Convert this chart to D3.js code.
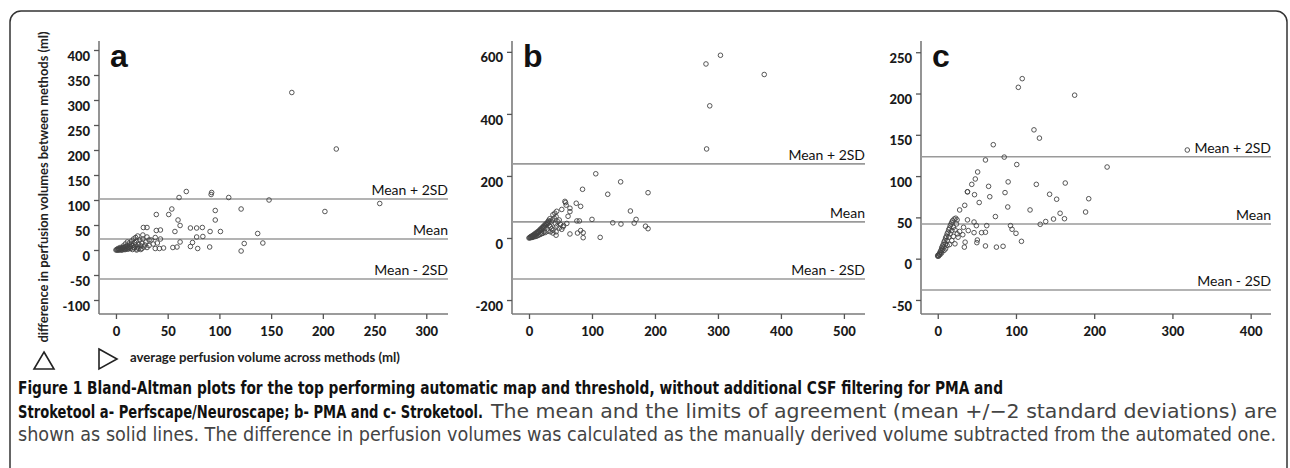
<!DOCTYPE html>
<html>
<head>
<meta charset="utf-8">
<script src="https://cdn.jsdelivr.net/npm/d3@7"></script>
<style>
  body { margin: 0; background: #fff; }
  svg { display: block; }
</style>
</head>
<body>
<svg id="fig" width="1290" height="468"></svg>
<script>
// panel a - Perfscape/Neuroscape: [average, difference]
var pointsA = [
  [61,105],[68,117],[92.5,115],[92,111],[109,105],[148,100],[255,93],[202,77],[121,82],[54,82],
  [39,71],[51,71],[96,79],[96,60],[60,60],[62,49],[57,37],[72,44],[78,44],[83.5,45],[91,37],[101,37],
  [26.5,45],[30,45],[39,39],[43,40],[137,33],[142,14],[124,13],[121,-2],[78,26],[84,27],[74,15],[72,7],
  [62,16],[55,5],[59,6],[79,3],[90.6,6],[46,4],[42,3],[38,3],[43,22],[38,25],[40,14],[30,26],[34,20],
  [0,0],[1,1],[2,0],[3,2],[4,1],[5,3],[6,2],[7,5],[8,4],[9,6],[10,3],[11,8],[12,5],[13,10],[14,7],
  [15,12],[16,9],[17,4],[18,15],[19,10],[20,18],[21,6],[22,12],[23,20],[24,8],[25,14],[26,22],[28,10],
  [29,16],[30,5],[2,3],[3,1],[5,0],[6,4],[8,1],[10,7],[12,2],[14,3],[16,1],[18,5],[20,2],[22,3],[24,1],
  [13,14],[15,18],[17,22],[19,25],[21,28],[11,16],[9,12],[7,8],[4,5],[25,3],[27,6],[32,9],[36,12],
  [26,30],[32,20],[170,315],[213,202],[1,0],[3,0],[6,0],[9,1],[11,2],[20,0]
];
// panel b - PMA
var pointsB = [
  [281,561],[304,589],[373.5,527],[287,426],[282,287],[106,207],[85,157],[125,141],[145.5,181],[189,146],
  [161,87],[170,60],[167,48],[185,38],[189,30],[133,49],[146,45],[100,60],[113,2],[75,112],[82,102],
  [58,114],[65,96],[65,85],[76,55],[80,55],[41,80],[43,69],[82,24],[86,17],[77,16],[86,1],[65,13],
  [43,20],[43,9],[54,36],[60,47],[48,58],[32,53],[57,118],[59,106],[44,86],[38,75],[52,92],[62,70],
  [0,0],[2,2],[3,5],[4,3],[5,7],[6,6],[7,10],[8,8],[9,13],[10,11],[11,16],[12,14],[13,19],[14,17],
  [15,22],[16,20],[17,26],[18,24],[19,30],[20,27],[21,34],[22,31],[23,38],[24,35],[25,42],[26,39],
  [27,46],[28,43],[29,50],[30,47],[31,56],[32,40],[33,62],[34,36],[35,52],[36,30],[37,58],[38,25],
  [40,64],[42,46],[44,38],[46,52],[48,32],[50,44],[52,28],[55,40],[10,5],[14,8],[18,12],[22,15],
  [26,18],[30,22],[34,20],[38,16],[5,2],[8,4],[1,1],[3,1],[6,3],[12,6],[16,10],[20,14],[24,20]
];
// panel c - Stroketool
var pointsC = [
  [108,218],[103,207.5],[175,198],[123,156],[130,146],[71,138],[319,131.6],[85,123],[61,119.5],[101,114],
  [216.5,111],[51,105],[48,96.5],[43.5,90],[65,87.6],[90,93],[126,90],[163,91.6],[38,81],[47,77.5],
  [66.5,75],[86,80],[143,78],[152,72],[193,72.6],[53,68],[34.5,64.6],[28,59],[118,59],[89.5,62.6],
  [73.7,51],[189,56.5],[156.4,55],[162,48.4],[148,48],[138,45],[131,41.6],[93,40],[95,35.6],[100,30.7],
  [107,21],[83.5,15],[75,14],[61,15.4],[50.6,22.6],[50,19.4],[61,32],[56,31.5],[62.6,40],[46.4,44.4],
  [49.4,40],[46.4,31.5],[39,34],[33,38],[38,47],[32,29],[35,20],[34,14],[23,49],[24.7,47],[38,81],
  [0,3],[1,4],[2,6],[3,8],[4,10],[5,13],[6,15],[7,17],[8,20],[9,22],[10,25],[11,27],[12,30],[13,32],
  [14,35],[15,37],[16,40],[17,42],[18,44],[19,46],[2,5],[4,8],[6,11],[8,14],[10,18],[12,22],[14,26],
  [16,30],[18,34],[20,38],[10,12],[15,17],[18,22],[20,27],[22,18],[25,30],[12,16],[8,10],[5,7],[3,5],
  [1,3],[0,4],[22,35],[24,42],[21,48],[26,26],[28,33]
];

// limits of agreement: [mean + 2SD, mean, mean - 2SD]
var limitsA = [102, 22, -58];
var limitsB = [239, 52, -132];
var limitsC = [123.5, 42, -38];
var limitLabels = ["Mean + 2SD", "Mean", "Mean - 2SD"];

var yTicksA = [-100, -50, 0, 50, 100, 150, 200, 250, 300, 350, 400];
var xTicksA = [0, 50, 100, 150, 200, 250, 300];
var yTicksB = [-200, 0, 200, 400, 600];
var xTicksB = [0, 100, 200, 300, 400, 500];
var yTicksC = [-50, 0, 50, 100, 150, 200, 250];
var xTicksC = [0, 100, 200, 300, 400];

var panelLetters = ["a", "b", "c"];

var yTitle = "difference in perfusion volumes between methods (ml)";
var xTitle = "average perfusion volume across methods (ml)";

// caption lines: segments [text, bold, width]
var captionLines = [
  [["Figure 1 Bland-Altman plots for the top performing automatic map and threshold, without additional CSF filtering for PMA and", true, 985]],
  [["Stroketool a- Perfscape/Neuroscape; b- PMA and c- Stroketool.", true, 465],
   ["The mean and the limits of agreement (mean +/\u22122 standard deviations) are", false, 786]],
  [["shown as solid lines. The difference in perfusion volumes was calculated as the manually derived volume subtracted from the automated one.", false, 1258]]
];

var svg = d3.select("#fig");
var plain = function(d) { return String(d); };

// figure frame
svg.append("rect")
  .attr("x", 10).attr("y", 11)
  .attr("width", 1277).attr("height", 480)
  .attr("rx", 11).attr("ry", 11)
  .attr("fill", "none")
  .attr("stroke", "#333")
  .attr("stroke-width", 1.5);

var panels = [
  {pts: pointsA, lim: limitsA, yt: yTicksA, xt: xTicksA, left: 99, right: 448, xd: [-16.4, 321], yd: [-128, 418]},
  {pts: pointsB, lim: limitsB, yt: yTicksB, xt: xTicksB, left: 512, right: 865, xd: [-27, 533.5], yd: [-245, 635]},
  {pts: pointsC, lim: limitsC, yt: yTicksC, xt: xTicksC, left: 921, right: 1271, xd: [-21.4, 426], yd: [-67, 263.6]}
];
var plotTop = 41, plotBottom = 314;

panels.forEach(function(p, i) {
  var x = d3.scaleLinear().domain(p.xd).range([p.left, p.right]);
  var y = d3.scaleLinear().domain(p.yd).range([plotBottom, plotTop]);
  var g = svg.append("g");

  // axes
  var ya = g.append("g")
    .attr("transform", "translate(" + p.left + ",0)")
    .call(d3.axisLeft(y).tickValues(p.yt).tickFormat(plain).tickSize(5).tickPadding(4).tickSizeOuter(0));
  ya.select(".domain").attr("d", "M0," + plotTop + "V" + plotBottom);
  ya.selectAll("text").attr("dy", "0.78em");

  var xa = g.append("g")
    .attr("transform", "translate(0," + plotBottom + ")")
    .call(d3.axisBottom(x).tickValues(p.xt).tickFormat(plain).tickSize(5).tickPadding(8).tickSizeOuter(0));
  xa.select(".domain").attr("d", "M" + p.left + ",0H" + p.right);

  g.selectAll(".domain").attr("stroke", "#7a7a7a").attr("stroke-width", 1.6);
  g.selectAll(".tick line").attr("stroke", "#555").attr("stroke-width", 1.3);
  g.selectAll(".tick text")
    .attr("fill", "#1a1a1a")
    .style("font-family", "Lato, 'Open Sans', sans-serif")
    .style("font-weight", "900")
    .style("font-size", "13px");

  // limit lines
  g.selectAll(".lim").data(p.lim).enter().append("line")
    .attr("x1", p.left).attr("x2", p.right)
    .attr("y1", function(d) { return y(d); })
    .attr("y2", function(d) { return y(d); })
    .attr("stroke", "#9a9a9a")
    .attr("stroke-width", 1.6);

  g.selectAll(".limlab").data(p.lim).enter().append("text")
    .attr("x", p.right)
    .attr("y", function(d) { return y(d) - 4; })
    .attr("text-anchor", "end")
    .style("font-family", "Lato, 'Open Sans', sans-serif")
    .style("font-size", "14px")
    .attr("fill", "#111")
    .text(function(d, j) { return limitLabels[j]; });

  // points
  g.selectAll(".pt").data(p.pts).enter().append("circle")
    .attr("cx", function(d) { return x(d[0]); })
    .attr("cy", function(d) { return y(d[1]); })
    .attr("r", 2.3)
    .attr("fill", "none")
    .attr("stroke", "#444")
    .attr("stroke-width", 0.9);

  // panel letter
  g.append("text")
    .attr("x", p.left + 11)
    .attr("y", 67)
    .style("font-family", "'Liberation Sans', Arial, sans-serif")
    .style("font-weight", "bold")
    .style("font-size", "32px")
    .attr("fill", "#111")
    .text(panelLetters[i]);
});

// axis titles (panel a)
svg.append("text")
  .attr("transform", "translate(48,187) rotate(-90)")
  .attr("text-anchor", "middle")
  .attr("textLength", 311)
  .attr("lengthAdjust", "spacingAndGlyphs")
  .style("font-family", "Lato, 'Open Sans', sans-serif")
  .style("font-weight", "bold")
  .style("font-size", "12.5px")
  .attr("fill", "#222")
  .text(yTitle);

svg.append("path")
  .attr("d", "M44,352L54,369L34,369Z")
  .attr("fill", "none").attr("stroke", "#222").attr("stroke-width", 1.6);
svg.append("path")
  .attr("d", "M99,349L117,359L99,369Z")
  .attr("fill", "none").attr("stroke", "#222").attr("stroke-width", 1.6);

svg.append("text")
  .attr("x", 130).attr("y", 362)
  .attr("textLength", 270)
  .attr("lengthAdjust", "spacingAndGlyphs")
  .style("font-family", "Lato, 'Open Sans', sans-serif")
  .style("font-weight", "bold")
  .style("font-size", "12.5px")
  .attr("fill", "#222")
  .text(xTitle);

// caption
captionLines.forEach(function(line, i) {
  var t = svg.append("text")
    .attr("y", 394 + i * 23.5)
    .style("font-family", "'Liberation Sans Narrow', 'DejaVu Sans Condensed', Roboto, sans-serif");
  var cx = 18;
  line.forEach(function(seg) {
    t.append("tspan")
      .attr("x", cx)
      .attr("textLength", seg[2])
      .attr("lengthAdjust", "spacingAndGlyphs")
      .style("font-weight", seg[1] ? "bold" : "normal")
      .style("font-size", seg[1] ? "18px" : "19.5px")
      .attr("fill", seg[1] ? "#111" : "#444")
      .text(seg[0]);
    cx += seg[2] + 8;
  });
});
</script>
</body>
</html>
